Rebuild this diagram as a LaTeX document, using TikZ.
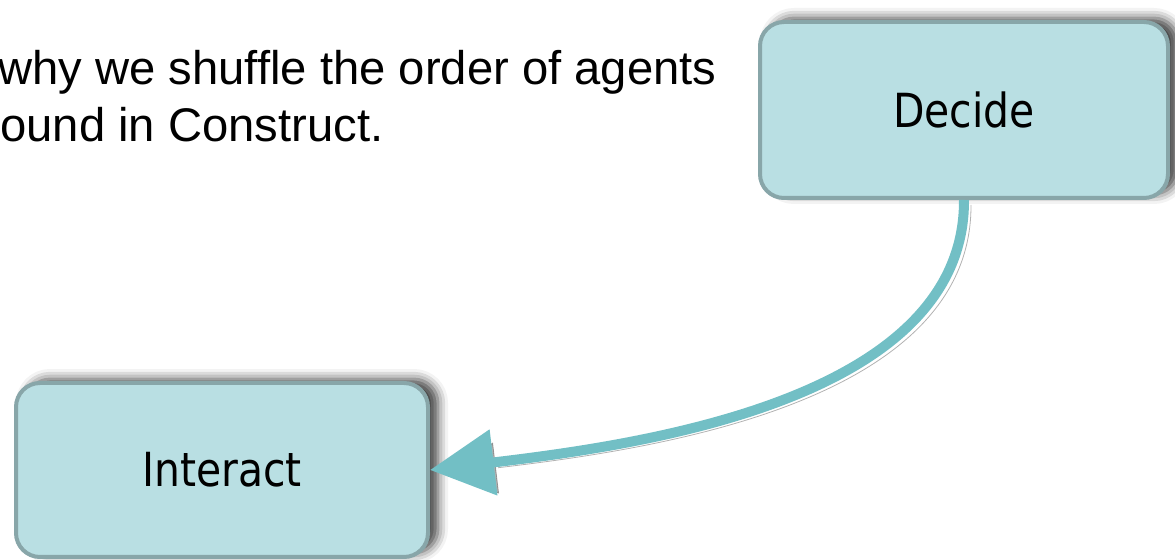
\documentclass[tikz,border=0pt]{standalone}
\usepackage{fontspec}
\setmainfont{Liberation Sans}
\newfontfamily\boxfont[FakeStretch=0.87]{DejaVu Sans}
\usepackage{tikz}
\usetikzlibrary{arrows.meta,positioning,shadows.blur}
\definecolor{stepfill}{RGB}{185, 223, 227}
\definecolor{stepborder}{RGB}{136, 166, 169}
\definecolor{flowcolor}{RGB}{114, 191, 197}

\begin{document}
\begin{tikzpicture}[x=0.5pt, y=-0.5pt,
    stepbox/.style={draw=stepborder, line width=2pt, fill=stepfill, rounded corners=12pt, minimum width=204pt, minimum height=88pt, font=\boxfont\fontsize{23.5}{27}\selectfont, blur shadow={shadow xshift=5pt, shadow yshift=2pt, shadow blur radius=5pt, shadow opacity=75}},
    note/.style={anchor=base west, inner sep=0pt, font=\fontsize{23.6}{28}\selectfont},
    flow/.style={draw=flowcolor, line width=5pt, -{Triangle[length=32pt, width=32pt]}, preaction={draw=black, opacity=.3, transform canvas={shift={(3.5pt,-2.5pt)}}}},
]
    \useasboundingbox (0,0) rectangle (1175,560);

    % Text
    \node[note] (line1) at (-2,85) {why we shuffle the order of agents};
    \node[note] (line2) at (0,142) {ound in Construct.};

    % Steps
    \node[stepbox] (decide) at (964,110) {Decide};
    \node[stepbox, minimum width=206pt, minimum height=87pt] (interact) at (222,470) {Interact};

    % Flow
    \draw[flow] (decide.south) .. controls (965,400) and (640,445) .. (interact.east);

\end{tikzpicture}
\end{document}
